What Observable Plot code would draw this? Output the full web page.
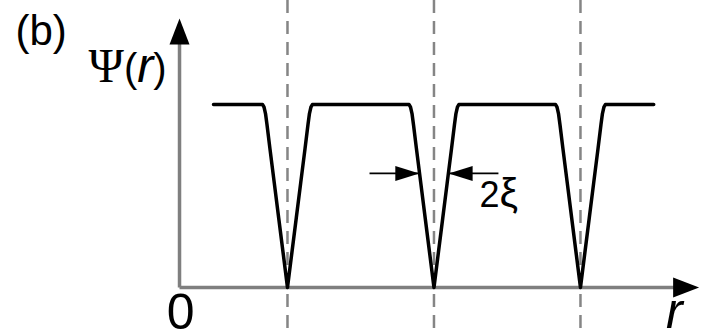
<!DOCTYPE html>
<html><head><meta charset="utf-8">
<script src="https://cdn.jsdelivr.net/npm/d3@7"></script>
<script src="https://cdn.jsdelivr.net/npm/@observablehq/plot@0.6"></script>
<style>html,body{margin:0;padding:0;background:#fff} svg{display:block}</style>
</head><body><div id="chart"></div>
<script>
// ---- data (r in units of the core spacing, Ψ normalised to the plateau) ----
const cores = [1, 2, 3];                       // positions of the dips (dashed lines)
const dipOffset = [0, 0.03, 0.06, 0.09, 0.12, 0.14, 0.15, 0.16, 0.17];
const dipPsi    = [0, 0.19, 0.38, 0.57, 0.76, 0.89, 0.95, 0.985, 1.00];
const curveRange = [0.495, 3.5];               // extent of the Ψ(r) curve
const axisOrigin = 0.263;                      // r where the drawn axes cross
const xAxisEnd = 3.81;                         // r of the x-axis arrow tip
const yAxisEnd = 1.47;                         // Ψ of the y-axis arrow tip
const widthPsi = 0.623;                        // Ψ level of the 2ξ marker
const widthHalf = 0.10;                        // ξ (half width at that level)
const widthTail = 0.34;                        // length of the marker arrows
const labels = ["(b)", "Ψ(r)", "2ξ", "0", "r"];

// ---- build the curve from the dip profile ----
const curve = [{r: curveRange[0], psi: 1}];
for (const c of cores) {
  for (let i = dipOffset.length - 1; i >= 0; i--) curve.push({r: c - dipOffset[i], psi: dipPsi[i]});
  for (let i = 1; i < dipOffset.length; i++) curve.push({r: c + dipOffset[i], psi: dipPsi[i]});
}
curve.push({r: curveRange[1], psi: 1});

const W = 702, H = 334;
const tri = (hw) => ({draw(ctx, l) { ctx.moveTo(0, -l); ctx.lineTo(-hw, 0); ctx.lineTo(hw, 0); ctx.closePath(); }});

const axisHeads = [
  {r: axisOrigin, psi: yAxisEnd, rot: 0},
  {r: xAxisEnd, psi: 0, rot: 90}
];
const markerArrows = [
  {r1: cores[1] - widthHalf - widthTail, r2: cores[1] - widthHalf, rot: 90},
  {r1: cores[1] + widthHalf + widthTail, r2: cores[1] + widthHalf, rot: -90}
];

const sans = "'Liberation Sans', Arial, Helvetica, sans-serif";
const chart = Plot.plot({
  width: W, height: H,
  margin: 0,
  x: {type: "linear", domain: [-0.959, 3.833], range: [0, W], axis: null},
  y: {type: "linear", domain: [-0.257, 1.568], range: [H, 0], axis: null},
  style: {background: "#fff", fontFamily: sans},
  marks: [
    Plot.ruleX(cores, {stroke: "#858585", strokeWidth: 2.5, strokeDasharray: "13,8"}),
    Plot.link([{r1: axisOrigin, p1: 0, r2: axisOrigin, p2: yAxisEnd - 0.05}, {r1: axisOrigin, p1: 0, r2: xAxisEnd - 0.05, p2: 0}],
      {x1: "r1", y1: "p1", x2: "r2", y2: "p2", stroke: "#7f7f7f", strokeWidth: 3.5}),
    Plot.vector(axisHeads, {x: "r", y: "psi", rotate: "rot", length: 26, anchor: "end",
      shape: tri(10), fill: "black", stroke: "none"}),
    Plot.line(curve, {x: "r", y: "psi", stroke: "black", strokeWidth: 3.5, strokeLinejoin: "round"}),
    Plot.link(markerArrows, {x1: "r1", y1: () => widthPsi, x2: "r2", y2: () => widthPsi, stroke: "black", strokeWidth: 1.8}),
    Plot.vector(markerArrows, {x: "r2", y: () => widthPsi, rotate: "rot", length: 24, anchor: "end",
      shape: tri(7.5), fill: "black", stroke: "none"}),
    Plot.text([labels[0]], {x: -0.857, y: 1.396, text: d => d, textAnchor: "start", fontSize: 42, fill: "black"}),
    Plot.text([labels[1]], {x: -0.358, y: 1.19, text: d => d, textAnchor: "start", fontSize: 40, fill: "black"}),
    Plot.text([labels[2]], {x: 2.31, y: 0.505, text: d => d, textAnchor: "start", fontSize: 36, fill: "black"}),
    Plot.text([labels[3]], {x: 0.27, y: -0.142, text: d => d, textAnchor: "middle", fontSize: 50, fill: "black"}),
    Plot.text([labels[4]], {x: 3.641, y: -0.135, text: d => d, textAnchor: "middle", fontSize: 50, fontStyle: "italic", fill: "black"})
  ]
});

// mixed styling: serif Ψ, upright parentheses, italic r, larger ξ
d3.select(chart).selectAll("text").each(function() {
  const t = d3.select(this);
  if (t.text() === labels[1]) {
    t.text(null);
    t.append("tspan").attr("font-family", "'Liberation Serif', 'Times New Roman', serif").attr("font-size", "1.2em").text("Ψ");
    t.append("tspan").text("(");
    t.append("tspan").attr("font-style", "italic").attr("font-size", "1.2em").text("r");
    t.append("tspan").text(")");
  } else if (t.text() === labels[2]) {
    t.text(null);
    t.append("tspan").text("2");
    t.append("tspan").attr("font-size", "1.15em").text("ξ");
  }
});
document.getElementById("chart").append(chart);
</script>
</body></html>
